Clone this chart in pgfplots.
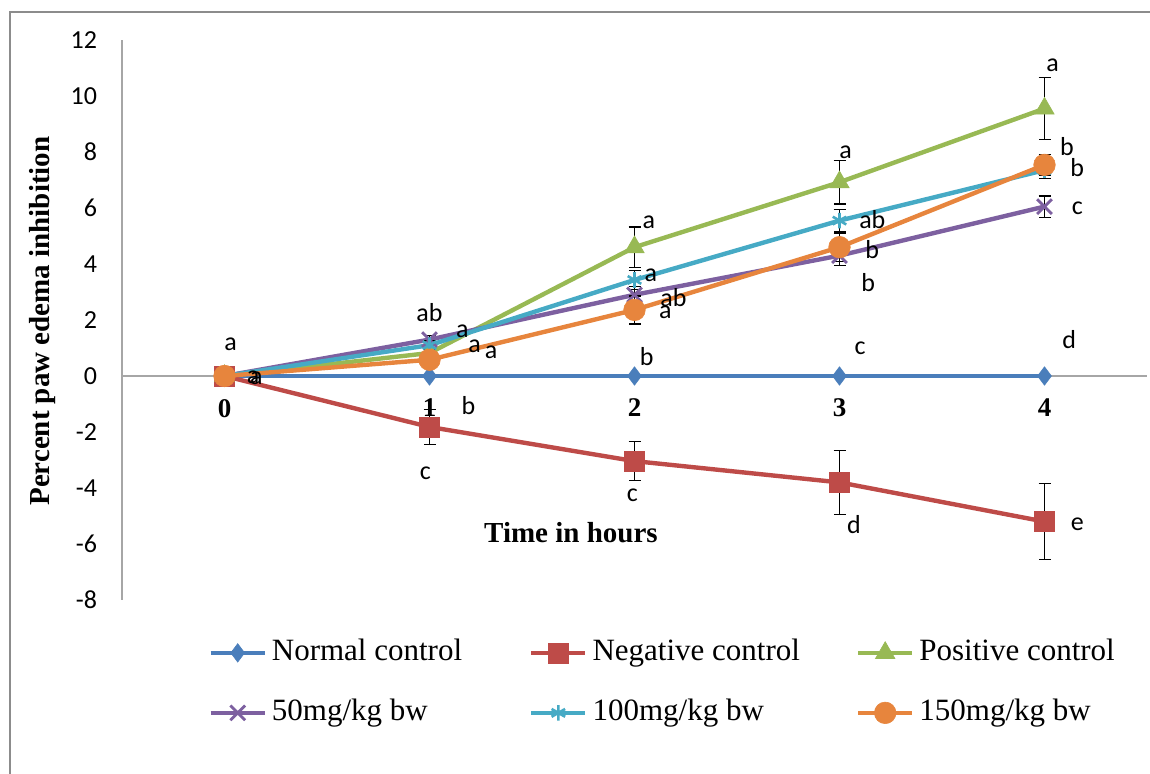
\documentclass[border=0pt]{standalone}
\usepackage{fontspec}
\setmainfont{Liberation Serif}
\newfontfamily\carlito{Carlito}
\usepackage{pgfplots}
\pgfplotsset{compat=1.18}
\definecolor{cblue}{HTML}{4A7EBB}
\definecolor{cred}{HTML}{BE4B48}
\definecolor{cgreen}{HTML}{98B954}
\definecolor{cpurple}{HTML}{7D60A0}
\definecolor{cteal}{HTML}{46AAC5}
\definecolor{corange}{HTML}{E7853D}
\definecolor{framegray}{HTML}{8C8C8C}
\newcommand{\lbl}{\carlito\fontsize{13}{15}\selectfont}
\begin{document}
\begin{tikzpicture}
\useasboundingbox (-61pt,-87pt) rectangle (514pt,300pt);
\draw[framegray, line width=1pt] (-56pt,-90pt) -- (-56pt,293.75pt) -- (520pt,293.75pt);
\begin{axis}[
  scale only axis,
  width=512.5pt, height=280pt,
  anchor=south west, at={(0,0)},
  xmin=-0.5, xmax=4.5, ymin=-8, ymax=12,
  axis x line*=middle, axis y line*=left,
  axis line style={draw=gray!70, line width=0.6pt},
  major tick length=0pt,
  xtick={0,1,2,3,4}, xticklabels={0,1,2,3,4},
  ytick={-8,-6,-4,-2,0,2,4,6,8,10,12},
  yticklabels={-8,-6,-4,-2,0,2,4,6,8,10,12},
  xticklabel style={font=\bfseries\fontsize{13.5}{15}\selectfont, anchor=north, yshift=-8pt},
  yticklabel style={font=\lbl, anchor=east, xshift=-9pt},
  ylabel={Percent paw edema inhibition},
  ylabel style={font=\bfseries\fontsize{14.5}{16}\selectfont, at={(axis description cs:-0.078,0.498)}, anchor=center},
  clip=false,
  every axis plot/.append style={line width=2.2pt},
  error bars/error bar style={black, line width=0.6pt, solid},
  error bars/error mark options={rotate=90, black, mark size=3pt, line width=0.6pt},
  legend columns=3,
  legend style={draw=none, fill=none, inner sep=0pt, at={(axis description cs:0.084,-0.148)}, anchor=west,
    font=\fontsize{15.5}{17}\selectfont,
    nodes={inner sep=0pt, text height=11pt, text depth=3.5pt},
    row sep=15.5pt,
    /tikz/every odd column/.append style={column sep=2.5pt},
    /tikz/column 2/.style={column sep=33.5pt},
    /tikz/column 4/.style={column sep=28pt}},
  legend cell align=left,
  legend image code/.code={\draw[mark repeat=2,mark phase=2] plot coordinates {(0pt,0pt) (13.5pt,0pt) (27pt,0pt)};},
]
\addplot[cblue, mark=diamond*, mark size=4.6pt, mark options={solid, fill=cblue, line width=0.3pt}] table[x=x,y=y] {
x y
0 0
1 0
2 0
3 0
4 0
};
\addlegendentry{Normal control}
\addplot[cred, mark=square*, mark size=5pt, mark options={solid, fill=cred, line width=0.3pt},
  error bars/.cd, y dir=both, y explicit] table[x=x,y=y,y error=e] {
x y e
0 0 0
1 -1.82 0.62
2 -3.04 0.70
3 -3.80 1.15
4 -5.20 1.36
};
\addlegendentry{Negative control}
\addplot[cgreen, mark=triangle*, mark size=5.6pt, mark options={solid, fill=cgreen, line width=0.3pt},
  error bars/.cd, y dir=both, y explicit] table[x=x,y=y,y error=e] {
x y e
0 0 0
1 0.82 0.15
2 4.60 0.72
3 6.92 0.78
4 9.55 1.10
};
\addlegendentry{Positive control}
\addplot[cpurple, mark=x, mark size=5.2pt, mark options={solid, line width=1.4pt},
  error bars/.cd, y dir=both, y explicit] table[x=x,y=y,y error=e] {
x y e
0 0 0
1 1.30 0.15
2 2.90 0.30
3 4.30 0.36
4 6.05 0.38
};
\addlegendentry{50mg/kg bw}
\addplot[cteal, mark=asterisk, mark size=3.9pt, mark options={solid, line width=1.3pt},
  error bars/.cd, y dir=both, y explicit] table[x=x,y=y,y error=e] {
x y e
0 0 0
1 1.10 0.15
2 3.43 0.34
3 5.55 0.41
4 7.35 0.30
};
\addlegendentry{100mg/kg bw}
\addplot[corange, mark=*, mark size=5.4pt, mark options={solid, fill=corange, line width=0.3pt},
  error bars/.cd, y dir=both, y explicit] table[x=x,y=y,y error=e] {
x y e
0 0 0
1 0.58 0.12
2 2.36 0.50
3 4.60 0.50
4 7.54 0.36
};
\addlegendentry{150mg/kg bw}
\node[font=\bfseries\fontsize{14.5}{16}\selectfont] at (axis cs:1.69,-5.6) {Time in hours};
\begin{scope}[every node/.style={font=\lbl, inner sep=0pt}]
\node at (axis cs:0.03,1.14) {a};
\node at (axis cs:0.14,-0.03) {a};
\node at (axis cs:0.155,-0.08) {a};
\node at (axis cs:1.0,2.25) {ab};
\node at (axis cs:1.16,1.6) {a};
\node at (axis cs:1.22,1.07) {a};
\node at (axis cs:1.30,0.86) {a};
\node at (axis cs:1.19,-1.04) {b};
\node at (axis cs:0.98,-3.46) {c};
\node at (axis cs:2.07,5.5) {a};
\node at (axis cs:2.08,3.6) {a};
\node at (axis cs:2.19,2.79) {ab};
\node at (axis cs:2.15,2.29) {a};
\node at (axis cs:2.06,0.68) {b};
\node at (axis cs:1.99,-4.25) {c};
\node at (axis cs:3.03,8.0) {a};
\node at (axis cs:3.16,5.6) {ab};
\node at (axis cs:3.16,4.5) {b};
\node at (axis cs:3.14,3.32) {b};
\node at (axis cs:3.10,1.0) {c};
\node at (axis cs:3.07,-5.3) {d};
\node at (axis cs:4.04,11.1) {a};
\node at (axis cs:4.11,8.18) {b};
\node at (axis cs:4.16,7.46) {b};
\node at (axis cs:4.16,6.0) {c};
\node at (axis cs:4.12,1.29) {d};
\node at (axis cs:4.16,-5.29) {e};
\end{scope}
\end{axis}
\end{tikzpicture}
\end{document}
